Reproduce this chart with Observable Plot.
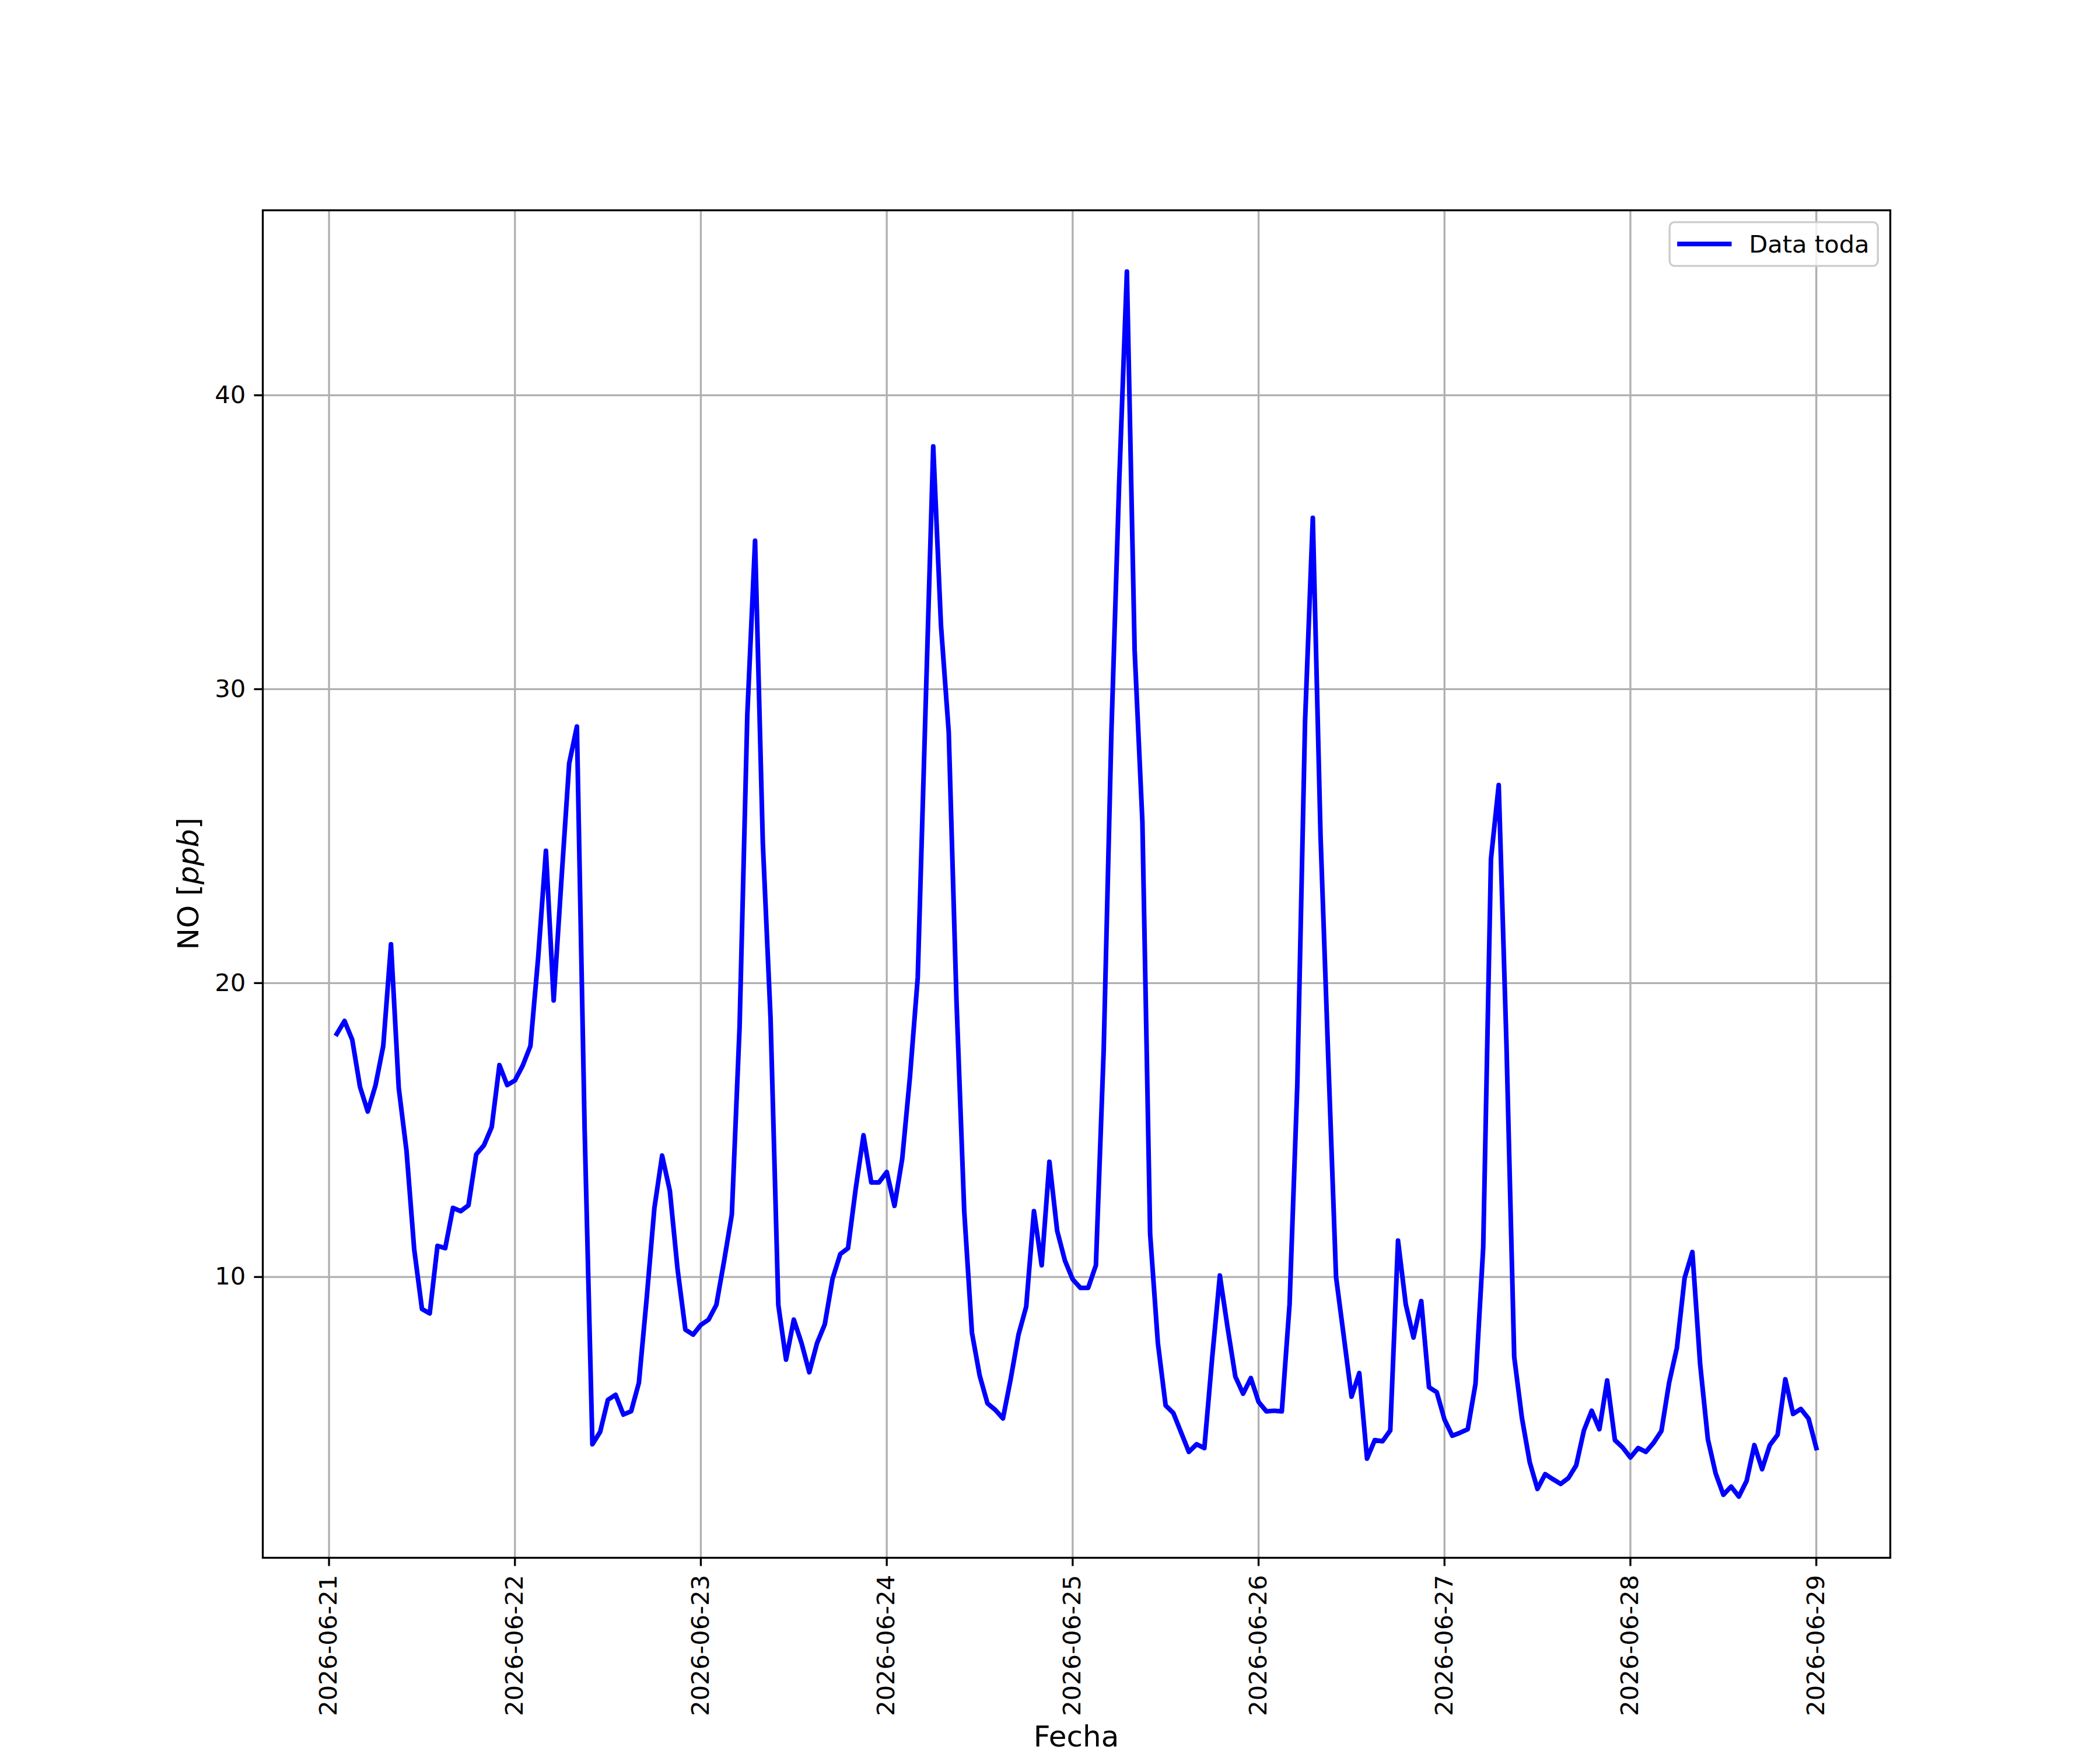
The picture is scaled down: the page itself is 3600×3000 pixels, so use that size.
<!DOCTYPE html>
<html>
<head>
<meta charset="utf-8">
<script src="https://cdn.jsdelivr.net/npm/d3@7"></script>
<script src="https://cdn.jsdelivr.net/npm/@observablehq/plot@0.6"></script>
<style>
  html, body { margin: 0; padding: 0; background: #ffffff; }
  #chart svg { display: block; }
</style>
</head>
<body>
<div id="chart"></div>
<script>
// ---- Data (hourly NO values, hours 01..24 of each day; hour 24 = next day 00:00) ----
const dayStarts = ["2026-06-21", "2026-06-22", "2026-06-23", "2026-06-24", "2026-06-25", "2026-06-26", "2026-06-27", "2026-06-28"];
const tickLabels = ["2026-06-21", "2026-06-22", "2026-06-23", "2026-06-24", "2026-06-25", "2026-06-26", "2026-06-27", "2026-06-28", "2026-06-29"];
const yTicks = [10, 20, 30, 40];

const day21 = [18.27, 18.71, 18.07, 16.47, 15.63, 16.52, 17.86, 21.32, 16.43, 14.30, 10.93, 8.91, 8.76, 11.06, 10.98, 12.35, 12.24, 12.44, 14.17, 14.48, 15.10, 17.21, 16.53, 16.69];
const day22 = [17.19, 17.86, 20.87, 24.50, 19.41, 23.50, 27.47, 28.73, 15.00, 4.31, 4.73, 5.82, 5.99, 5.32, 5.43, 6.40, 9.25, 12.34, 14.13, 12.93, 10.25, 8.21, 8.04, 8.37];
const day23 = [8.55, 9.05, 10.54, 12.13, 18.50, 29.14, 35.05, 24.77, 18.80, 9.05, 7.19, 8.55, 7.75, 6.76, 7.75, 8.39, 9.94, 10.78, 10.98, 13.02, 14.82, 13.22, 13.22, 13.57];
const day24 = [12.42, 14.03, 16.83, 20.19, 29.26, 38.26, 32.17, 28.54, 19.41, 12.24, 8.10, 6.64, 5.70, 5.48, 5.19, 6.53, 8.03, 8.99, 12.24, 10.40, 13.92, 11.57, 10.56, 9.92];
const day25 = [9.63, 9.63, 10.40, 17.68, 28.54, 37.00, 44.21, 31.32, 25.49, 11.46, 7.75, 5.63, 5.37, 4.71, 4.05, 4.31, 4.18, 7.22, 10.05, 8.28, 6.61, 6.03, 6.56, 5.75];
const day26 = [5.43, 5.45, 5.43, 9.07, 16.54, 28.90, 35.83, 25.00, 17.40, 10.00, 7.98, 5.93, 6.73, 3.82, 4.45, 4.41, 4.78, 11.24, 9.07, 7.94, 9.18, 6.25, 6.08, 5.15];
const day27 = [4.60, 4.70, 4.82, 6.36, 11.01, 24.22, 26.74, 17.91, 7.28, 5.20, 3.70, 2.79, 3.29, 3.12, 2.96, 3.16, 3.59, 4.78, 5.45, 4.82, 6.48, 4.45, 4.20, 3.86];
const day28 = [4.18, 4.05, 4.36, 4.76, 6.41, 7.59, 9.97, 10.85, 7.04, 4.48, 3.32, 2.59, 2.87, 2.53, 3.06, 4.28, 3.46, 4.28, 4.63, 6.52, 5.34, 5.51, 5.18, 4.18];

const seriesName = "Data toda";
const xLabel = "Fecha";
const yLabelMain = "NO [";
const yLabelUnit = "ppb";
const yLabelEnd = "]";

// ---- Build table ----
const days = [day21, day22, day23, day24, day25, day26, day27, day28];
const rows = [];
days.forEach((vals, d) => {
  const base = new Date(dayStarts[d] + "T00:00:00Z");
  vals.forEach((v, i) => {
    rows.push({date: new Date(base.getTime() + (i + 1) * 3600e3), value: v});
  });
});
const tickDates = tickLabels.map(s => new Date(s + "T00:00:00Z"));

// matplotlib-like 5% autoscale margins
const [x0, x1] = d3.extent(rows, d => d.date.getTime());
const xm = (x1 - x0) * 0.05;
const [y0, y1] = d3.extent(rows, d => d.value);
const ym = (y1 - y0) * 0.05;

// ---- Figure geometry (12x10 in @ 300 dpi) ----
const W = 3600, H = 3000;
const mL = 450, mR = 360, mT = 360, mB = 330;
const pt = 300 / 72;
const fs = 10 * pt;          // 41.67 px
const lfs = 12 * pt;         // 50 px
const lw = 0.8 * pt;         // 3.33 px
const tick = 3.5 * pt;       // 14.6 px

const chart = Plot.plot({
  width: W,
  height: H,
  marginLeft: mL,
  marginRight: mR,
  marginTop: mT,
  marginBottom: mB,
  style: {fontFamily: "'DejaVu Sans', sans-serif", fontSize: fs + "px", color: "black", background: "white", overflow: "visible"},
  x: {type: "utc", domain: [new Date(x0 - xm), new Date(x1 + xm)]},
  y: {domain: [y0 - ym, y1 + ym]},
  marks: [
    Plot.gridX(tickDates, {stroke: "#b0b0b0", strokeOpacity: 1, strokeWidth: lw}),
    Plot.gridY(yTicks, {stroke: "#b0b0b0", strokeOpacity: 1, strokeWidth: lw}),
    Plot.line(rows, {x: "date", y: "value", stroke: "#0000ff", strokeWidth: 8, strokeLinejoin: "round", strokeLinecap: "square"}),
    Plot.frame({stroke: "black", strokeWidth: lw}),
    Plot.axisY(yTicks, {tickSize: tick, tickPadding: tick, strokeWidth: lw, stroke: "black", fill: "black", label: null, fontSize: fs, tickFormat: d => String(d)}),
    Plot.axisX(tickDates, {tickSize: tick, tickPadding: tick, strokeWidth: lw, stroke: "black", fill: "black", tickRotate: -90, tickFormat: d3.utcFormat("%Y-%m-%d"), label: null, fontSize: fs})
  ]
});

document.getElementById("chart").appendChild(chart);

// ---- Axis labels and legend ----
const svg = d3.select(chart);
const ns = "'DejaVu Sans', sans-serif";
svg.append("text")
  .attr("x", mL + (W - mL - mR) / 2)
  .attr("y", 2994)
  .attr("text-anchor", "middle")
  .attr("font-family", ns)
  .attr("font-size", lfs)
  .attr("fill", "black")
  .text(xLabel);

const yl = svg.append("text")
  .attr("transform", `translate(340,${mT + (H - mT - mB) / 2}) rotate(-90)`)
  .attr("text-anchor", "middle")
  .attr("font-family", ns)
  .attr("font-size", lfs)
  .attr("fill", "black");
yl.append("tspan").text(yLabelMain);
yl.append("tspan").attr("font-style", "italic").text(yLabelUnit);
yl.append("tspan").text(yLabelEnd);

// legend (upper right inside axes)
const pad = 0.5 * fs;
const lgW = 357, lgH = 75;
const lgX = W - mR - pad - lgW, lgY = mT + pad;
const lg = svg.append("g");
lg.append("rect")
  .attr("x", lgX).attr("y", lgY).attr("width", lgW).attr("height", lgH)
  .attr("rx", 0.2 * fs).attr("ry", 0.2 * fs)
  .attr("fill", "white").attr("fill-opacity", 0.8)
  .attr("stroke", "#cccccc").attr("stroke-width", lw);
lg.append("line")
  .attr("x1", lgX + 13).attr("x2", lgX + 13 + 2 * fs + 10)
  .attr("y1", lgY + lgH / 2).attr("y2", lgY + lgH / 2)
  .attr("stroke", "#0000ff").attr("stroke-width", 8);
lg.append("text")
  .attr("x", lgX + 136).attr("y", lgY + lgH / 2 + 0.36 * fs)
  .attr("text-anchor", "start")
  .attr("font-family", ns).attr("font-size", fs).attr("fill", "black")
  .text(seriesName);
</script>
</body>
</html>
